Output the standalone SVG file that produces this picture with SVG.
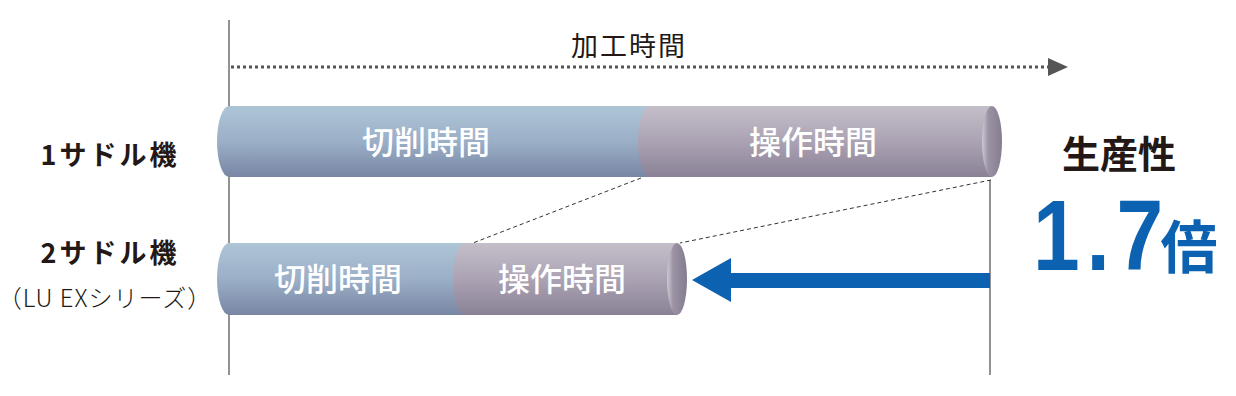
<svg xmlns="http://www.w3.org/2000/svg" width="1236" height="396" viewBox="0 0 1236 396">
<style>
.jp{font-family:"Noto Sans CJK JP","Noto Sans",sans-serif;}
.lbl{font-size:27px;font-weight:700;fill:#231815;text-anchor:middle;letter-spacing:3px;}
.bar{font-size:32px;font-weight:500;fill:#ffffff;text-anchor:middle;}
.guide{stroke:#6e6e6e;stroke-width:1.5;fill:none;}
.dash{stroke:#333;stroke-width:1;stroke-dasharray:4 3;fill:none;}
</style>
<defs>
<linearGradient id="gBlue" x1="0" y1="0" x2="0" y2="1">
<stop offset="0" stop-color="#aec5d6"/>
<stop offset="0.5" stop-color="#9bafc7"/>
<stop offset="1" stop-color="#7886a4"/>
</linearGradient>
<linearGradient id="gPurple" x1="0" y1="0" x2="0" y2="1">
<stop offset="0" stop-color="#c4bec9"/>
<stop offset="0.5" stop-color="#aba3b3"/>
<stop offset="1" stop-color="#8a8196"/>
</linearGradient>
<linearGradient id="gCap" x1="0" y1="0" x2="1" y2="0">
<stop offset="0" stop-color="#cfc9d4"/>
<stop offset="0.3" stop-color="#9c94a5"/>
<stop offset="1" stop-color="#847c8f"/>
</linearGradient>
</defs>

<g id="guides">
<line class="guide" x1="229" y1="20" x2="229" y2="375"/>
<line class="guide" x1="990" y1="180" x2="990" y2="375"/>
</g>

<g id="time-axis">
<line x1="231" y1="67" x2="1050" y2="67" stroke="#555" stroke-width="3" stroke-dasharray="3 3"/>
<path d="M1048,58 L1068,67 L1048,76 Z" fill="#555"/>
<text class="jp" x="629" y="56" font-size="27" font-weight="400" fill="#231815" text-anchor="middle" letter-spacing="2">加工時間</text>
</g>

<g id="label-1saddle">
<text class="jp lbl" x="110" y="165">1サドル機</text>
</g>
<g id="label-2saddle">
<text class="jp lbl" x="110" y="263">2サドル機</text>
<text class="jp" x="105" y="307" font-size="24" font-weight="300" fill="#231815" text-anchor="middle" letter-spacing="1">（LU EXシリーズ）</text>
</g>

<g id="connectors">
<line class="dash" x1="641" y1="178" x2="473" y2="243"/>
<line class="dash" x1="991" y1="180" x2="680" y2="243"/>
</g>

<g id="bar-1saddle">
<path d="M229,106 H652 V177 H229 A12,35.5 0 0 1 229,106 Z" fill="url(#gBlue)"/>
<path d="M650,106 H992 V177 H650 A12,35.5 0 0 1 650,106 Z" fill="url(#gPurple)"/>
<ellipse cx="992" cy="141.5" rx="10" ry="35.5" fill="url(#gCap)"/>
<text class="jp bar" x="426" y="154">切削時間</text>
<text class="jp bar" x="813" y="154">操作時間</text>
</g>

<g id="bar-2saddle">
<path d="M229,243 H467 V315 H229 A12,36 0 0 1 229,243 Z" fill="url(#gBlue)"/>
<path d="M465,243 H677 V315 H465 A12,36 0 0 1 465,243 Z" fill="url(#gPurple)"/>
<ellipse cx="677" cy="279" rx="10" ry="36" fill="url(#gCap)"/>
<text class="jp bar" x="338" y="291">切削時間</text>
<text class="jp bar" x="562" y="291">操作時間</text>
</g>

<g id="arrow-blue">
<polygon points="692,280 731,258 731,273 990,273 990,288 731,288 731,302" fill="#0c62b1"/>
</g>

<g id="productivity">
<text class="jp" x="1119" y="168" font-size="38" font-weight="700" fill="#231815" text-anchor="middle">生産性</text>
<text x="0" y="0" transform="translate(1033,270) scale(0.84,1)" font-family="Liberation Sans, Arial, sans-serif" font-size="100" font-weight="700" fill="#0c62b1"><tspan letter-spacing="8">1.</tspan><tspan>7</tspan></text>
<text class="jp" x="1189" y="268" font-size="57" font-weight="700" fill="#0c62b1" text-anchor="middle">倍</text>
</g>
</svg>
